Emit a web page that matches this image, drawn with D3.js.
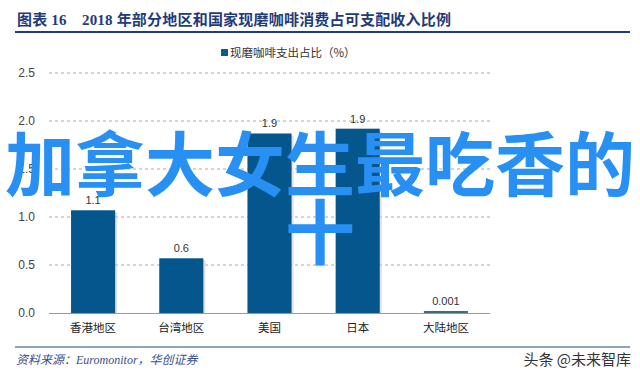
<!DOCTYPE html>
<html><head><meta charset="utf-8">
<script src="https://cdn.jsdelivr.net/npm/d3@7"></script>
<style>
html,body{margin:0;padding:0;background:#fff;}
svg{display:block;}
</style></head>
<body>
<svg id="c" width="640" height="377"></svg>
<script>
const categories = ["香港地区","台湾地区","美国","日本","大陆地区"];
const values = [1.07, 0.57, 1.87, 1.92, 0.001];
const valueLabels = ["1.1","0.6","1.9","1.9","0.001"];
const yTicks = [0, 0.5, 1.0, 1.5, 2.0, 2.5];
const seriesName = "现磨咖啡支出占比（%）";
const titleText = "图表 16　2018 年部分地区和国家现磨咖啡消费占可支配收入比例";
const sourceText = "资料来源：Euromonitor，华创证券";
const watermark = "头条 @未来智库";
const overlayLines = ["加拿大女生最吃香的","十"];

const svg = d3.select("#c");
const plot = {left:49, right:490, top:73, bottom:313};
const x = d3.scaleBand().domain(categories).range([plot.left, plot.right]).paddingInner(0.5).paddingOuter(0.25);
const y = d3.scaleLinear().domain([0,2.5]).range([plot.bottom, plot.top]);

// title
svg.append("text").attr("x",17).attr("y",25)
  .attr("font-family","'Liberation Serif','Noto Sans CJK SC',serif")
  .attr("font-weight","bold").attr("font-size",15).attr("fill","#1f3b7a")
  .attr("textLength",434).attr("lengthAdjust","spacing")
  .text(titleText);
svg.append("line").attr("x1",15).attr("x2",630).attr("y1",32).attr("y2",32)
  .attr("stroke","#1f3a8a").attr("stroke-width",2);

// legend
svg.append("rect").attr("x",221).attr("y",49).attr("width",7).attr("height",7).attr("fill","#0b5a8e");
svg.append("text").attr("x",230).attr("y",57)
  .attr("font-family","'Noto Sans CJK SC',sans-serif").attr("font-size",11.5).attr("fill","#333")
  .text(seriesName);

// grid
const grid = svg.append("g");
grid.selectAll("line").data(yTicks.filter(d=>d>0)).join("line")
  .attr("x1",plot.left).attr("x2",plot.right)
  .attr("y1",d=>y(d)).attr("y2",d=>y(d))
  .attr("stroke","#aaa").attr("stroke-width",1).attr("stroke-dasharray","3,3");

// y axis
const yAxis = d3.axisLeft(y).tickValues(yTicks).tickFormat(d3.format(".1f")).tickSize(0).tickPadding(14);
const ya = svg.append("g").attr("transform",`translate(${plot.left},0)`).call(yAxis);
ya.select(".domain").remove();
ya.selectAll("text").attr("font-family","Arial,'Liberation Sans',sans-serif").attr("font-size",12).attr("fill","#444");

// bars shadow + bars
svg.append("g").selectAll("rect").data(values).join("rect")
  .attr("x",(d,i)=>x(categories[i])+2).attr("width",x.bandwidth())
  .attr("y",d=>Math.min(y(d),plot.bottom-2)+2).attr("height",d=>Math.max(plot.bottom-y(d),2)-2)
  .attr("fill","#ccc").attr("opacity",0.6);
svg.append("g").selectAll("rect").data(values).join("rect")
  .attr("x",(d,i)=>x(categories[i])).attr("width",x.bandwidth())
  .attr("y",d=>Math.min(y(d),plot.bottom-2)).attr("height",d=>Math.max(plot.bottom-y(d),2))
  .attr("fill",(d,i)=> d<0.01 ? "#3d6b7e" : "#04568c");

// x axis
const xAxis = d3.axisBottom(x).tickSize(0).tickPadding(11);
const xa = svg.append("g").attr("transform",`translate(0,${plot.bottom})`).call(xAxis);
xa.select(".domain").attr("stroke","#999").attr("d",`M${plot.left},0.5H${plot.right}`);
xa.selectAll("text").attr("font-family","'Noto Sans CJK SC',sans-serif").attr("font-size",11.5).attr("fill","#222");

// value labels
svg.append("g").selectAll("text").data(values).join("text")
  .attr("x",(d,i)=>x(categories[i])+x.bandwidth()/2)
  .attr("y",d=>Math.min(y(d),plot.bottom-2)-6)
  .attr("text-anchor","middle")
  .attr("font-family","Arial,'Liberation Sans',sans-serif").attr("font-size",11).attr("fill","#333")
  .text((d,i)=>valueLabels[i]);

// footer
svg.append("line").attr("x1",15).attr("x2",630).attr("y1",347).attr("y2",347)
  .attr("stroke","#8fa3bf").attr("stroke-width",2);
svg.append("text").attr("x",16).attr("y",364)
  .attr("font-family","'Liberation Serif','Noto Sans CJK SC',serif").attr("font-style","italic")
  .attr("font-size",12).attr("fill","#3b4f8a").text(sourceText);
svg.append("text").attr("x",631).attr("y",365).attr("text-anchor","end")
  .attr("font-family","'Noto Sans CJK SC',sans-serif").attr("font-size",15).attr("fill","#333")
  .text(watermark);

// overlay
svg.append("g").selectAll("text").data(overlayLines).join("text")
  .attr("x",320)
  .attr("y",(d,i)=>191 + i*68)
  .attr("text-anchor","middle")
  .attr("font-family","'Noto Sans CJK SC',sans-serif").attr("font-weight","bold")
  .attr("font-size",70).attr("fill","#2790f2")
  .text(d=>d);
</script>
</body></html>
